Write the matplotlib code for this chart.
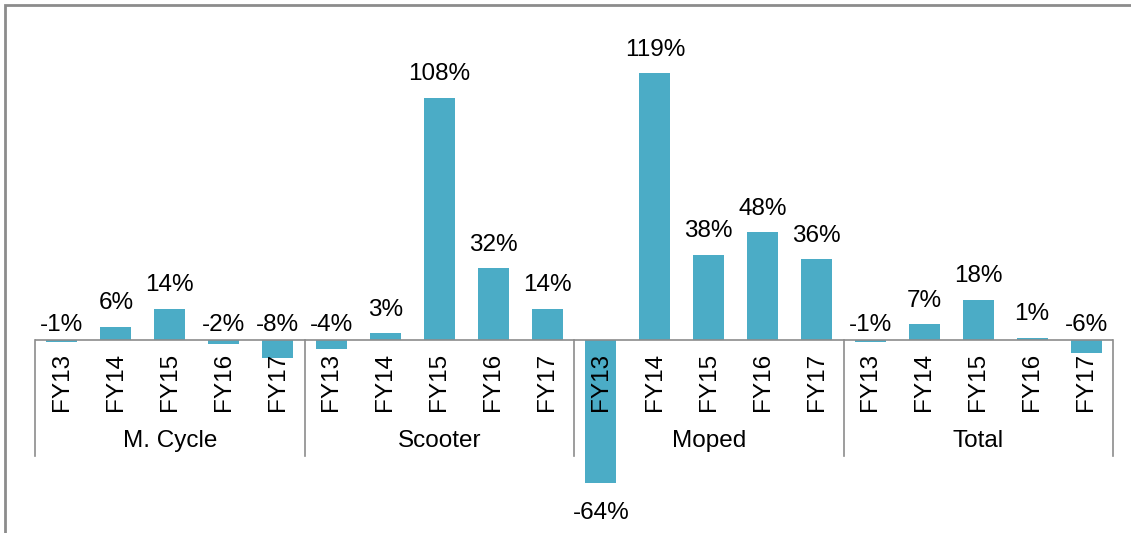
import numpy as np
import matplotlib.pyplot as plt
from matplotlib.patches import Rectangle

plt.rcParams['font.family'] = ['Liberation Sans', 'DejaVu Sans']

# 数据
groups = ['M. Cycle', 'Scooter', 'Moped', 'Total']
years = ['FY13', 'FY14', 'FY15', 'FY16', 'FY17']
mcycle = [-1, 6, 14, -2, -8]
scooter = [-4, 3, 108, 32, 14]
moped = [-64, 119, 38, 48, 36]
total = [-1, 7, 18, 1, -6]

values = np.array(mcycle + scooter + moped + total)
labels = years * len(groups)
x = np.arange(len(values))

W, H = 1131, 533
fig = plt.figure(figsize=(W / 100, H / 100), dpi=100)
# 轴的位置按像素换算
px_per = 2.24
top_px, bot_px, zero_px = 20, 500, 340
ax = fig.add_axes([35 / W, 1 - bot_px / H, (1113 - 35) / W, (bot_px - top_px) / H])
ax.set_xlim(-0.5, len(values) - 0.5)
ax.set_ylim(-(bot_px - zero_px) / px_per, (zero_px - top_px) / px_per)
ax.axis('off')

ax.bar(x, values, width=0.575, color='#4BACC6', zorder=2)
ax.axhline(0, color='#8C8C8C', lw=1.2, zorder=3)

fs = 17.5
for xi, v in zip(x, values):
    if v >= 0:
        ax.annotate(f'{v}%', (xi, v), xytext=(0, 17), textcoords='offset points',
                    ha='center', va='center', fontsize=fs)
    elif v > -20:
        ax.annotate(f'{v}%', (xi, 0), xytext=(0, 11), textcoords='offset points',
                    ha='center', va='center', fontsize=fs)
    else:
        ax.annotate(f'{v}%', (xi, v), xytext=(0, -21), textcoords='offset points',
                    ha='center', va='center', fontsize=fs, annotation_clip=False)

# 类别标签
lab_top = -(353 - zero_px) / px_per
for xi, lab in zip(x, labels):
    ax.text(xi, lab_top, lab, rotation=90, ha='center', va='top', fontsize=fs, zorder=4)

sep_bottom = -(456 - zero_px) / px_per
grp_y = -(441 - zero_px) / px_per
n = len(years)
for i in range(len(groups) + 1):
    ax.plot([i * n - 0.5] * 2, [0, sep_bottom], color='#8C8C8C', lw=1.2, clip_on=False)
for i, g in enumerate(groups):
    ax.text(i * n + (n - 1) / 2, grp_y, g, ha='center', va='center', fontsize=fs)

# 外框
fig.patches.append(Rectangle((5 / W, -0.1), 1.2, 1.1 - 5 / H, transform=fig.transFigure,
                             fill=False, edgecolor='#8C8C8C', lw=2))

fig.savefig('out.png', dpi=100)
